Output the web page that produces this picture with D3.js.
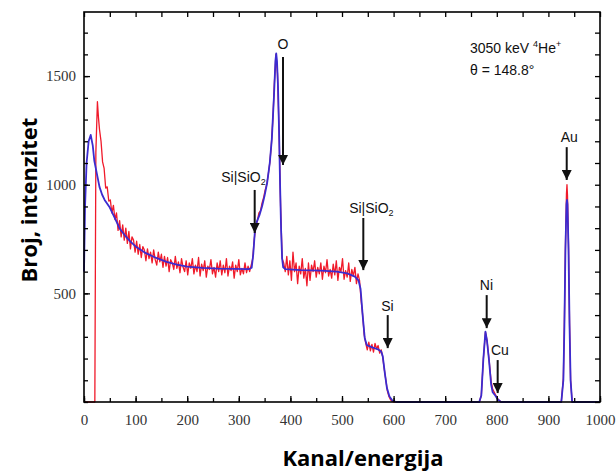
<!DOCTYPE html>
<html><head><meta charset="utf-8">
<script src="https://cdn.jsdelivr.net/npm/d3@7"></script>
<style>body{margin:0;background:#fff}svg{display:block}</style>
</head><body>
<svg id="c" width="616" height="475"></svg>
<script>
// ---- data ----
const xTicks = [0,100,200,300,400,500,600,700,800,900,1000];
const yTicks = [500,1000,1500];

// simulated spectrum (blue): channel / counts
const blueCh  = [0,2,5,9,13,17,20,25,30,35,40,50,60,70,80,90,100,120,140,160,180,200,230,260,290,320,325,328,331,335,340,345,350,355,360,364,368,371,372.5,374,376,378,380,382,384,386,390,420,460,490,510,525,532,536,540,544,548,560,570,576,579,583,587,592,598,605,766,770,774,778,781,785,789,792,797,802,808,925,929,931,933,935,936,937,939,941,943,946,1000];
const blueVal = [600,900,1100,1200,1229,1180,1110,1050,990,955,930,895,845,795,765,738,716,685,663,645,632,623,617,614,613,612,618,680,780,830,860,900,950,1010,1100,1210,1400,1570,1605,1570,1450,1250,1000,790,660,620,612,607,605,600,592,577,560,520,400,295,262,250,242,232,210,133,65,25,6,0,0,30,200,324,282,190,80,45,30,12,0,0,100,350,700,910,930,910,700,350,100,0,0];

// measured spectrum (red): head, noisy part (channels 30..600 step 3), tail
const redHeadCh  = [0,21,22,23,26,28];
const redHeadVal = [0,0,600,1150,1382,1310];
const redNoisyStart = 30, redNoisyStep = 3;
const redNoisy = [1255,1200,1105,1075,985,990,925,930,870,905,840,870,790,835,760,815,745,800,730,785,
705,760,745,690,740,680,725,665,715,700,650,705,660,690,640,700,655,630,690,645,
680,620,670,625,665,600,655,640,610,670,615,645,595,660,620,600,650,585,640,615,
660,590,630,600,665,580,635,605,650,575,625,610,655,590,620,575,640,600,650,585,
630,595,660,580,625,605,645,570,630,600,655,585,615,590,640,595,625,600,630,660,
750,810,835,870,880,915,940,975,1000,1045,1100,1180,1300,1470,1600,1510,1250,900,660,640,
600,670,585,650,560,690,600,640,545,625,590,660,570,615,535,640,560,630,600,650,
575,620,590,640,565,625,595,655,580,610,570,635,585,650,560,620,600,660,565,605,
575,640,555,610,580,620,545,590,560,470,400,310,270,240,275,235,265,230,270,245,
260,225,240,205,150,100,50,25,10,4,0];
const redTailCh  = [766,770,774,778,781,785,789,792,797,802,808,925,929,931,933,935,936,937,939,941,943,946,1000];
const redTailVal = [0,30,200,322,285,195,95,60,35,14,0,0,110,370,720,960,1000,950,720,360,100,0,0];

// annotations: label, label channel, label counts (baseline), arrow channel, arrow start, arrow tip
const annLabel = ["O","Si|SiO","Si|SiO","Si","Ni","Cu","Au"];
const annSub   = ["","2","2","","","",""];
const annLx    = [385.5,309,557,588,780,806,940.5];
const annLy    = [1624,1012,870,419,515,216,1196];
const annAx    = [385.7,330.8,541.3,588.6,780.4,801.7,935.5];
const annA0    = [1588,976,847,400,492,193,1173];
const annA1    = [1091,778,607,248,340,41,1022];

// ---- drawing ----
const svg = d3.select("#c");
const L=84,R=600,T=12,B=402;
const x = d3.scaleLinear().domain([0,1000]).range([L,R]);
const y = d3.scaleLinear().domain([0,1795]).range([B,T]);

const red = redHeadCh.map((c,i)=>[c,redHeadVal[i]])
  .concat(redNoisy.map((v,i)=>[redNoisyStart+i*redNoisyStep,v]))
  .concat(redTailCh.map((c,i)=>[c,redTailVal[i]]));
const blue = blueCh.map((c,i)=>[c,blueVal[i]]);

const line = d3.line().x(d=>x(d[0])).y(d=>y(d[1]));

svg.append("path").attr("d",line(red)).attr("fill","none")
  .attr("stroke","#f01a2a").attr("stroke-width",1.3).attr("stroke-linejoin","round");
svg.append("path").attr("d",line(blue)).attr("fill","none")
  .attr("stroke","#3b2bd0").attr("stroke-width",1.8).attr("stroke-linejoin","round");

// axes
const fontSerif = "'Liberation Serif','DejaVu Serif',serif";
function styleAxis(g){
  g.select(".domain").remove();
  g.selectAll("line").attr("stroke","#000").attr("stroke-width",1.3);
  g.selectAll("text").attr("font-family",fontSerif).attr("font-size",15).attr("fill","#333");
}
const minorX = d3.range(0,1001,50);
const minorY = d3.range(0,1795,100);

svg.append("g").attr("transform",`translate(0,${B})`)
  .call(d3.axisBottom(x).tickValues(xTicks).tickSize(-6).tickPadding(12).tickFormat(d3.format("d"))).call(styleAxis);
svg.append("g").attr("transform",`translate(0,${B})`)
  .call(d3.axisBottom(x).tickValues(minorX).tickSize(-4).tickFormat("")).call(styleAxis);
svg.append("g").attr("transform",`translate(0,${T})`)
  .call(d3.axisTop(x).tickValues(minorX).tickSize(-5).tickFormat("")).call(styleAxis);
svg.append("g").attr("transform",`translate(${L},0)`)
  .call(d3.axisLeft(y).tickValues(yTicks).tickSize(-6).tickPadding(8).tickFormat(d3.format("d"))).call(styleAxis);
svg.append("g").attr("transform",`translate(${L},0)`)
  .call(d3.axisLeft(y).tickValues(minorY).tickSize(-4).tickFormat("")).call(styleAxis);
svg.append("g").attr("transform",`translate(${R},0)`)
  .call(d3.axisRight(y).tickValues(minorY).tickSize(-5).tickFormat("")).call(styleAxis);

svg.append("rect").attr("x",L).attr("y",T).attr("width",R-L).attr("height",B-T)
  .attr("fill","none").attr("stroke","#000").attr("stroke-width",1.6);

// axis titles
const fontTitle = "'Open Sans','Noto Sans',sans-serif";
svg.append("text").attr("transform",`translate(37,200) rotate(-90)`)
  .attr("text-anchor","middle").attr("font-family",fontTitle).attr("font-weight","bold")
  .attr("font-size",22).attr("fill","#000").text("Broj, intenzitet");
svg.append("text").attr("x",363).attr("y",466)
  .attr("text-anchor","middle").attr("font-family",fontTitle).attr("font-weight","bold")
  .attr("font-size",22).attr("fill","#000").text("Kanal/energija");

// info text
const fontSans = "'Liberation Sans',Arial,sans-serif";
const info = svg.append("text").attr("x",470).attr("y",53).attr("font-family",fontSans).attr("font-size",14).attr("fill","#111");
info.append("tspan").text("3050 keV ");
info.append("tspan").attr("font-size",9).attr("dy",-6).text("4");
info.append("tspan").attr("dy",6).text("He");
info.append("tspan").attr("font-size",9).attr("dy",-6).text("+");
svg.append("text").attr("x",470).attr("y",75).attr("font-family",fontSans).attr("font-size",14).attr("fill","#111").text("θ = 148.8°");

// arrows
svg.append("defs").append("marker").attr("id","ah").attr("viewBox","0 0 10 10")
  .attr("refX",10).attr("refY",5).attr("markerWidth",5).attr("markerHeight",5)
  .attr("markerUnits","strokeWidth").attr("orient","auto")
  .append("path").attr("d","M0,0 L10,5 L0,10 Z").attr("fill","#111");

annLabel.forEach((lab,i)=>{
  svg.append("line").attr("x1",x(annAx[i])).attr("x2",x(annAx[i]))
    .attr("y1",y(annA0[i])).attr("y2",y(annA1[i]))
    .attr("stroke","#111").attr("stroke-width",2).attr("marker-end","url(#ah)");
  const t = svg.append("text").attr("x",x(annLx[i])).attr("y",y(annLy[i]))
    .attr("text-anchor","middle").attr("font-family",fontSans).attr("font-size",14).attr("fill","#111");
  t.append("tspan").text(lab);
  if(annSub[i]) t.append("tspan").attr("font-size",9).attr("dy",3).text(annSub[i]);
});
</script>
</body></html>
